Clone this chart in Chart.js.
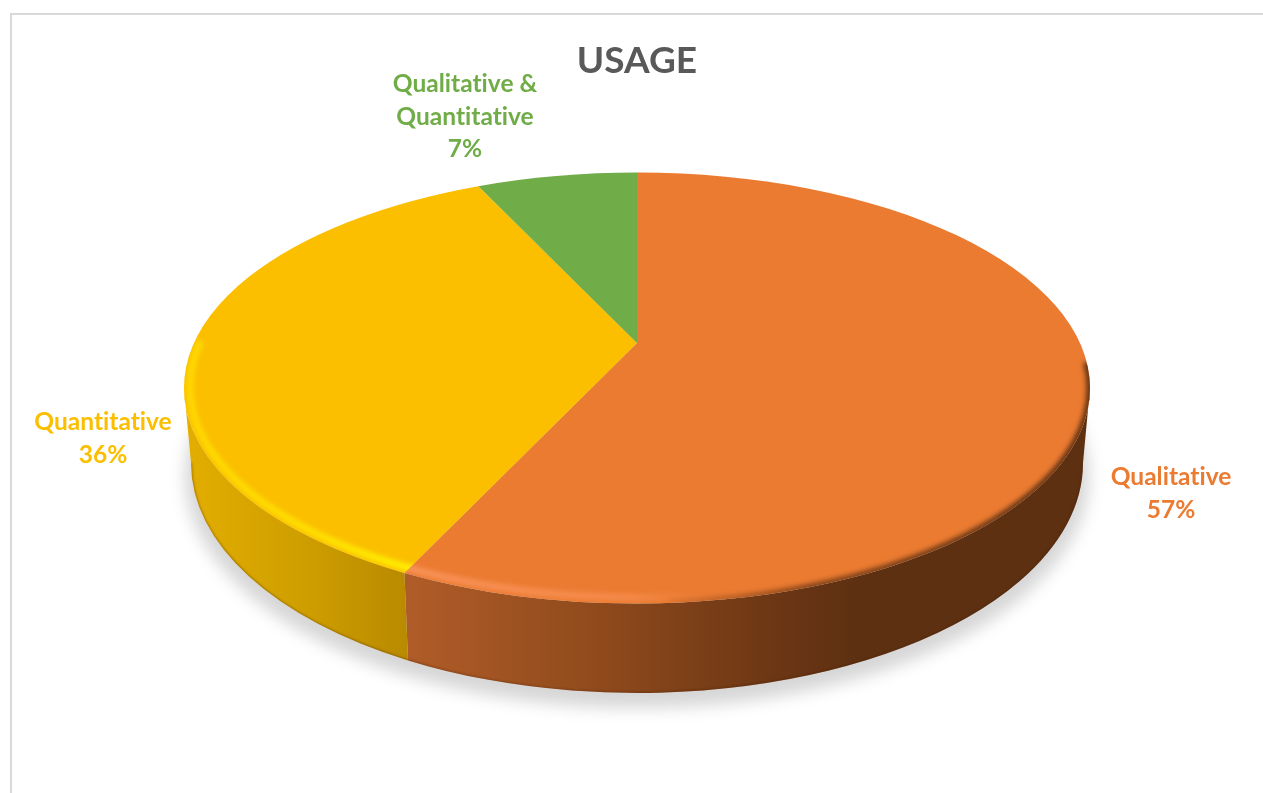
<!DOCTYPE html>
<html>
<head>
<meta charset="utf-8">
<title>Usage</title>
<script src="https://cdn.jsdelivr.net/npm/chart.js@4"></script>
<style>
    html, body { margin: 0; height: 100%; background: #fff; overflow: hidden; }
    #frame {
        position: absolute; left: 10px; top: 13px; width: 1251px; height: 800px;
        border: solid #d9d9d9; border-width: 2px 2px 0 2px;
    }
    #box { position: absolute; left: 11px; top: 0; width: 1252px; height: 793px; }
</style>
</head>
<body>
<div id="frame"></div>
<div id="box"><canvas id="usageChart"></canvas></div>
<script>
// Datos del gráfico
const categories = ['Qualitative', 'Quantitative', 'Qualitative & Quantitative'];
const values = [57, 36, 7];
const sliceColors = ['#eb7b31', '#fbbf00', '#70ac47'];

// Geometría de la tarta en perspectiva
const topFace = { cy: 388, rx: 453, ry: 215.5, apexY: 343 };
const bottomRim = { cy: 463, rx: 446, ry: 230 };

// Líneas de cada etiqueta y su ancla en el lienzo
const labelLines = [['Qualitative'], ['Quantitative'], ['Qualitative &', 'Quantitative']];
const labelAnchors = [{ x: 1160, y: 477 }, { x: 92, y: 422 }, { x: 454, y: 84 }];

// Degradados de la pared lateral y del bisel por porción
const wallStops = [
    [[399, '#b05c28'], [589, '#8f4a1c'], [769, '#6b3614'], [849, '#5d3012'], [1080, '#5d3012']],
    [[173, '#e3ae00'], [289, '#cf9f00'], [399, '#b98900']],
    null
];
const highlightStops = [
    [[396, 'rgba(250,150,95,0.9)'], [620, 'rgba(250,145,85,0.7)'], [720, 'rgba(235,123,49,0)'], [1080, 'rgba(235,123,49,0)']],
    [[173, 'rgba(255,218,0,0.95)'], [300, 'rgba(255,226,0,0.95)'], [399, 'rgba(255,240,0,1)']],
    null
];
const edgeStops = [[640, 'rgba(93,48,18,0)'], [800, 'rgba(93,48,18,0.75)'], [1080, 'rgba(93,48,18,1)']];

// Lleva un ángulo del círculo al borde de la elipse, con el vértice desplazado
function rimAngle(angle, a) {
    const u = Math.cos(angle), v = Math.sin(angle);
    const d = 1 - a * v;
    return Math.atan2((v - a) / d, u * Math.sqrt(1 - a * a) / d);
}

function horizontalGradient(ctx, stops) {
    const g = ctx.createLinearGradient(stops[0][0], 0, stops[stops.length - 1][0], 0);
    const span = stops[stops.length - 1][0] - stops[0][0];
    stops.forEach(function (s) { g.addColorStop((s[0] - stops[0][0]) / span, s[1]); });
    return g;
}

const pie3d = {
    id: 'pie3d',
    // Las porciones se pintan aquí con los ángulos calculados por Chart.js
    beforeDatasetsDraw: function (chart) {
        const ctx = chart.ctx;
        const arcs = chart.getDatasetMeta(0).data;
        const cx = arcs[0].x;
        const a = (topFace.cy - topFace.apexY) / topFace.ry;

        const spans = arcs.map(function (arc) {
            const t0 = rimAngle(arc.startAngle, a);
            let t1 = rimAngle(arc.endAngle, a);
            while (t1 <= t0) t1 += Math.PI * 2;
            return [t0, t1];
        });

        // Sombra bajo la tarta
        ctx.save();
        ctx.filter = 'blur(8px)';
        ctx.fillStyle = 'rgba(0,0,0,0.16)';
        ctx.beginPath();
        ctx.ellipse(cx, bottomRim.cy + 13, bottomRim.rx + 6, bottomRim.ry + 2, 0, 0, Math.PI * 2);
        ctx.fill();
        ctx.restore();

        // Pared lateral
        spans.forEach(function (span, i) {
            if (!wallStops[i]) return;
            const lo = Math.max(span[0], 0);
            const hi = Math.min(span[1], Math.PI);
            if (hi <= lo) return;
            ctx.beginPath();
            ctx.ellipse(cx, topFace.cy, topFace.rx, topFace.ry, 0, lo, hi);
            ctx.ellipse(cx, bottomRim.cy, bottomRim.rx, bottomRim.ry, 0, hi, lo, true);
            ctx.closePath();
            ctx.fillStyle = horizontalGradient(ctx, wallStops[i]);
            ctx.fill();

            // Filo oscuro en la base
            ctx.save();
            ctx.clip();
            ctx.filter = 'blur(1px)';
            ctx.strokeStyle = 'rgba(70,30,0,0.4)';
            ctx.lineWidth = 2;
            ctx.beginPath();
            ctx.ellipse(cx, bottomRim.cy, bottomRim.rx, bottomRim.ry, 0, lo, hi);
            ctx.stroke();
            ctx.restore();
        });

        // Cara superior
        spans.forEach(function (span, i) {
            ctx.beginPath();
            ctx.moveTo(cx, topFace.apexY);
            ctx.ellipse(cx, topFace.cy, topFace.rx, topFace.ry, 0, span[0], span[1]);
            ctx.closePath();
            ctx.fillStyle = sliceColors[i];
            ctx.fill();
        });

        // Bisel del borde delantero
        spans.forEach(function (span, i) {
            if (!highlightStops[i]) return;
            ctx.save();
            ctx.beginPath();
            ctx.moveTo(cx, topFace.apexY);
            ctx.ellipse(cx, topFace.cy, topFace.rx, topFace.ry, 0, span[0], span[1]);
            ctx.closePath();
            ctx.clip();
            ctx.filter = 'blur(2.5px)';

            // Brillo algo hacia dentro del borde
            ctx.strokeStyle = horizontalGradient(ctx, highlightStops[i]);
            ctx.lineWidth = 7;
            ctx.beginPath();
            const lo = i === 0 ? 0.9 : span[0] - 0.1;
            const hi = i === 0 ? span[1] + 0.1 : Math.PI + 0.22;
            ctx.ellipse(cx, topFace.cy - 1, topFace.rx - 6, topFace.ry - 5, 0, lo, hi);
            ctx.stroke();

            // Sombra suave pegada al borde derecho
            if (i === 0) {
                ctx.strokeStyle = horizontalGradient(ctx, edgeStops);
                ctx.lineWidth = 7;
                ctx.beginPath();
                ctx.ellipse(cx, topFace.cy, topFace.rx, topFace.ry, 0, -0.12, 1.5);
                ctx.stroke();
            }
            ctx.restore();
        });

        return false;
    },
    // Etiquetas de categoría y porcentaje
    afterDraw: function (chart) {
        const ctx = chart.ctx;
        ctx.save();
        ctx.font = 'bold 24.5px Lato';
        // Con un espaciado mínimo el navegador no junta la "ti" en ligadura
        ctx.letterSpacing = '0.01px';
        ctx.textAlign = 'center';
        ctx.textBaseline = 'middle';
        labelLines.forEach(function (lines, i) {
            ctx.fillStyle = sliceColors[i];
            const rows = lines.concat(values[i] + '%');
            rows.forEach(function (row, r) {
                ctx.fillText(row, labelAnchors[i].x, labelAnchors[i].y + r * 32.7);
            });
        });
        ctx.restore();
    }
};

new Chart(document.getElementById('usageChart'), {
    type: 'pie',
    data: {
        labels: categories,
        datasets: [{ data: values, backgroundColor: sliceColors, borderWidth: 0 }]
    },
    options: {
        responsive: true,
        maintainAspectRatio: false,
        animation: false,
        plugins: {
            legend: { display: false },
            tooltip: { enabled: false },
            title: {
                display: true,
                text: 'USAGE',
                color: '#595959',
                font: { family: 'Lato', size: 37, weight: 'bold' },
                padding: { top: 39, bottom: 10 }
            }
        }
    },
    plugins: [pie3d]
});
</script>
</body>
</html>
